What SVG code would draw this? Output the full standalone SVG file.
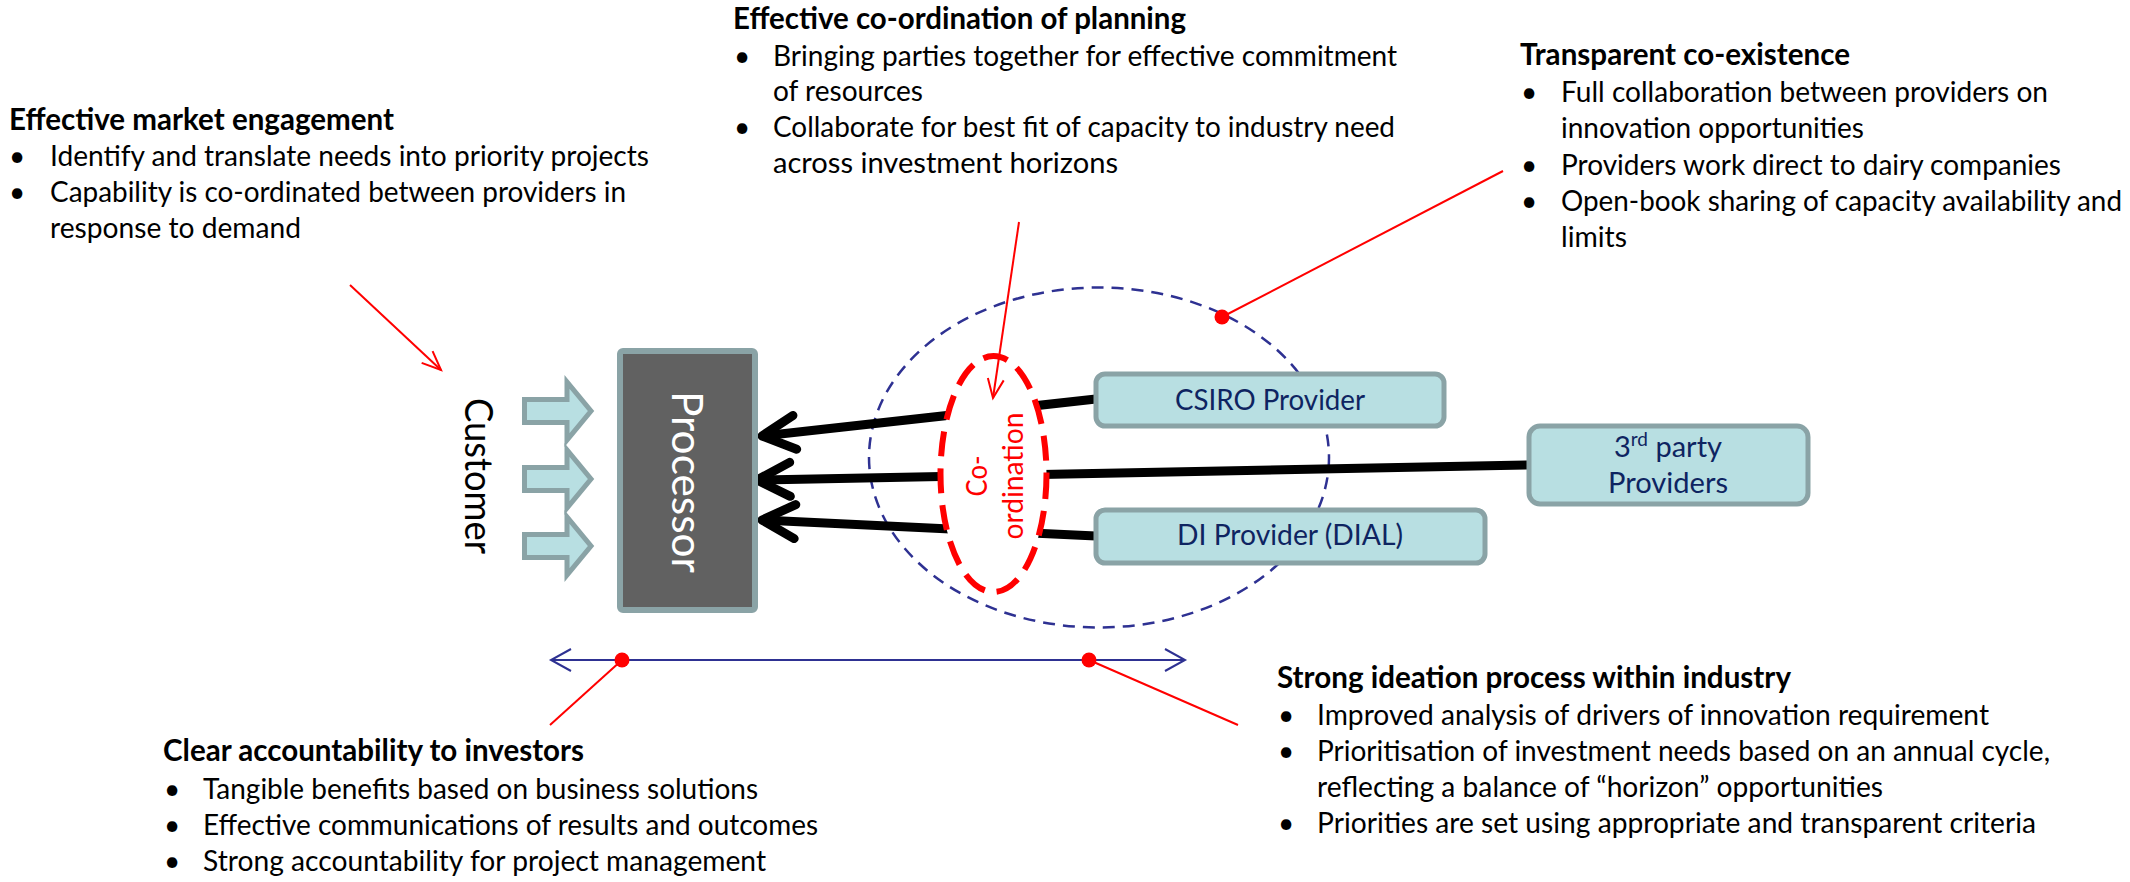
<svg xmlns="http://www.w3.org/2000/svg" width="2130" height="882" viewBox="0 0 2130 882">
<style>
.t{font-family:Lato,"Open Sans",sans-serif;font-size:28px;fill:#000}
.h{font-family:Lato,"Open Sans",sans-serif;font-size:30px;font-weight:bold;fill:#000}
.bx{fill:#B8DFE2;stroke:#8AA3A6;stroke-width:5}
.bt{font-family:Lato,"Open Sans",sans-serif;font-size:29px;fill:#0E2461;text-anchor:middle}
.red{stroke:#FF0000;stroke-width:2;fill:none}
.blk{stroke:#000;stroke-width:9;fill:none}
.blue{stroke:#2E3192;stroke-width:2;fill:none}
.dot{fill:#FF0000}
</style>
<defs>
<marker id="redHead" markerUnits="userSpaceOnUse" markerWidth="30" markerHeight="30" viewBox="-25 -15 30 30" refX="0" refY="0" orient="auto" overflow="visible">
<path d="M-19,-8 L0,0 L-19,8" fill="none" stroke="#FF0000" stroke-width="2"/>
</marker>
<marker id="blkHead" markerUnits="userSpaceOnUse" markerWidth="60" markerHeight="60" viewBox="-50 -30 60 60" refX="0" refY="0" orient="auto" overflow="visible">
<path d="M-33,-17 L0,0 L-33,17" fill="none" stroke="#000" stroke-width="9" stroke-linecap="round" stroke-linejoin="round"/>
</marker>
<marker id="blueHead" markerUnits="userSpaceOnUse" markerWidth="30" markerHeight="30" viewBox="-25 -15 30 30" refX="0" refY="0" orient="auto-start-reverse" overflow="visible">
<path d="M-20,-11 L0,0 L-20,11" fill="none" stroke="#2E3192" stroke-width="2"/>
</marker>
<path id="blockArrow" d="M524.5,-11.5 L567,-11.5 L567,-29 L591,0 L567,29 L567,11.5 L524.5,11.5 Z" fill="#B8DFE2" stroke="#8AA3A6" stroke-width="5"/>
</defs>
<rect width="2130" height="882" fill="#FFFFFF"/>

<g id="text-market-engagement">
<text class="h" x="9" y="130" textLength="385" lengthAdjust="spacingAndGlyphs">Effective market engagement</text>
<text class="t" x="9" y="166">•</text>
<text class="t" x="50" y="166" textLength="599" lengthAdjust="spacingAndGlyphs">Identify and translate needs into priority projects</text>
<text class="t" x="9" y="202">•</text>
<text class="t" x="50" y="202" textLength="576" lengthAdjust="spacingAndGlyphs">Capability is co-ordinated between providers in</text>
<text class="t" x="50" y="238" textLength="251" lengthAdjust="spacingAndGlyphs">response to demand</text>
</g>

<g id="text-coordination-planning">
<text class="h" x="733" y="29" textLength="453" lengthAdjust="spacingAndGlyphs">Effective co-ordination of planning</text>
<text class="t" x="734" y="66">•</text>
<text class="t" x="773" y="66" textLength="624" lengthAdjust="spacingAndGlyphs">Bringing parties together for effective commitment</text>
<text class="t" x="773" y="101" textLength="150" lengthAdjust="spacingAndGlyphs">of resources</text>
<text class="t" x="734" y="137">•</text>
<text class="t" x="773" y="137" textLength="622" lengthAdjust="spacingAndGlyphs">Collaborate for best fit of capacity to industry need</text>
<text class="t" x="773" y="173" textLength="345" lengthAdjust="spacingAndGlyphs">across investment horizons</text>
</g>

<g id="text-transparent-coexistence">
<text class="h" x="1520" y="65" textLength="330" lengthAdjust="spacingAndGlyphs">Transparent co-existence</text>
<text class="t" x="1521" y="102">•</text>
<text class="t" x="1561" y="102" textLength="487" lengthAdjust="spacingAndGlyphs">Full collaboration between providers on</text>
<text class="t" x="1561" y="138" textLength="303" lengthAdjust="spacingAndGlyphs">innovation opportunities</text>
<text class="t" x="1521" y="175">•</text>
<text class="t" x="1561" y="175" textLength="500" lengthAdjust="spacingAndGlyphs">Providers work direct to dairy companies</text>
<text class="t" x="1521" y="211">•</text>
<text class="t" x="1561" y="211" textLength="561" lengthAdjust="spacingAndGlyphs">Open-book sharing of capacity availability and</text>
<text class="t" x="1561" y="247" textLength="66" lengthAdjust="spacingAndGlyphs">limits</text>
</g>

<g id="text-ideation">
<text class="h" x="1277" y="688" textLength="514" lengthAdjust="spacingAndGlyphs">Strong ideation process within industry</text>
<text class="t" x="1278" y="725">•</text>
<text class="t" x="1317" y="725" textLength="672" lengthAdjust="spacingAndGlyphs">Improved analysis of drivers of innovation requirement</text>
<text class="t" x="1278" y="761">•</text>
<text class="t" x="1317" y="761" textLength="733" lengthAdjust="spacingAndGlyphs">Prioritisation of investment needs based on an annual cycle,</text>
<text class="t" x="1317" y="797" textLength="566" lengthAdjust="spacingAndGlyphs">reflecting a balance of “horizon” opportunities</text>
<text class="t" x="1278" y="833">•</text>
<text class="t" x="1317" y="833" textLength="719" lengthAdjust="spacingAndGlyphs">Priorities are set using appropriate and transparent criteria</text>
</g>

<g id="text-accountability">
<text class="h" x="163" y="761" textLength="421" lengthAdjust="spacingAndGlyphs">Clear accountability to investors</text>
<text class="t" x="164" y="799">•</text>
<text class="t" x="203" y="799" textLength="555" lengthAdjust="spacingAndGlyphs">Tangible benefits based on business solutions</text>
<text class="t" x="164" y="835">•</text>
<text class="t" x="203" y="835" textLength="615" lengthAdjust="spacingAndGlyphs">Effective communications of results and outcomes</text>
<text class="t" x="164" y="871">•</text>
<text class="t" x="203" y="871" textLength="563" lengthAdjust="spacingAndGlyphs">Strong accountability for project management</text>
</g>

<g id="provider-zone">
<ellipse cx="1099" cy="457.5" rx="230" ry="170" fill="none" stroke="#2E3192" stroke-width="2.5" stroke-dasharray="12 8"/>
</g>

<g id="customer">
<text transform="translate(465,476) rotate(90)" x="0" y="0" font-family="Lato, 'Open Sans', sans-serif" font-size="39" fill="#000" text-anchor="middle" textLength="156" lengthAdjust="spacingAndGlyphs">Customer</text>
<use href="#blockArrow" transform="translate(0,411)"/>
<use href="#blockArrow" transform="translate(0,479)"/>
<use href="#blockArrow" transform="translate(0,546)"/>
</g>

<g id="connectors">
<line class="blk" x1="1096" y1="399" x2="762" y2="436" marker-end="url(#blkHead)"/>
<line class="blk" x1="1529" y1="465" x2="757" y2="480" marker-end="url(#blkHead)"/>
<line class="blk" x1="1096" y1="536" x2="762" y2="520" marker-end="url(#blkHead)"/>
</g>

<g id="processor">
<rect x="620" y="351" width="135" height="259" rx="3" fill="#616161" stroke="#8AA3A6" stroke-width="6"/>
<text transform="translate(672,482) rotate(90)" x="0" y="0" font-family="Lato, 'Open Sans', sans-serif" font-size="42" fill="#FFFFFF" text-anchor="middle" textLength="182" lengthAdjust="spacingAndGlyphs">Processor</text>
</g>

<g id="coordination">
<ellipse cx="993.5" cy="474" rx="53" ry="118" fill="#FFFFFF" stroke="#FF0000" stroke-width="6" stroke-dasharray="25 12"/>
<text transform="translate(987,476) rotate(-90)" x="0" y="0" font-family="Lato, 'Open Sans', sans-serif" font-size="28" fill="#FF0000" text-anchor="middle" textLength="41" lengthAdjust="spacingAndGlyphs">Co-</text>
<text transform="translate(1023,476) rotate(-90)" x="0" y="0" font-family="Lato, 'Open Sans', sans-serif" font-size="28" fill="#FF0000" text-anchor="middle" textLength="127" lengthAdjust="spacingAndGlyphs">ordination</text>
</g>

<g id="csiro-provider">
<rect class="bx" x="1096" y="374" width="348" height="52" rx="9"/>
<text class="bt" x="1270" y="410" textLength="190" lengthAdjust="spacingAndGlyphs">CSIRO Provider</text>
</g>

<g id="di-provider">
<rect class="bx" x="1096" y="510" width="389" height="53" rx="9"/>
<text class="bt" x="1290" y="545" textLength="226" lengthAdjust="spacingAndGlyphs">DI Provider (DIAL)</text>
</g>

<g id="third-party-providers">
<rect class="bx" x="1529" y="426" width="279" height="78" rx="11"/>
<text class="bt" x="1668" y="457">3<tspan font-size="19" dy="-11">rd</tspan><tspan dy="11"> party</tspan></text>
<text class="bt" x="1668" y="493" textLength="120" lengthAdjust="spacingAndGlyphs">Providers</text>
</g>

<g id="callouts">
<line class="red" x1="350" y1="285" x2="441" y2="370" marker-end="url(#redHead)"/>
<line class="red" x1="1019" y1="222" x2="993" y2="398" marker-end="url(#redHead)"/>
<line class="red" x1="1222" y1="317" x2="1503" y2="171"/>
<circle class="dot" cx="1222" cy="317" r="7.5"/>
<line class="blue" x1="551" y1="660" x2="1185" y2="660" marker-start="url(#blueHead)" marker-end="url(#blueHead)"/>
<line class="red" x1="622" y1="660" x2="550" y2="725"/>
<line class="red" x1="1089" y1="660" x2="1238" y2="725"/>
<circle class="dot" cx="622" cy="660" r="7.5"/>
<circle class="dot" cx="1089" cy="660" r="7.5"/>
</g>
</svg>
